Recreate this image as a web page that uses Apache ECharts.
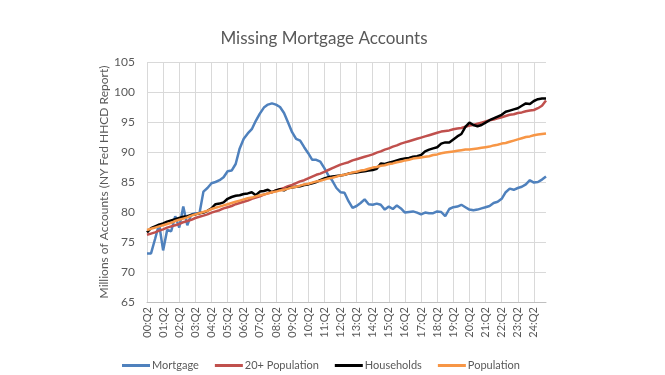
<!DOCTYPE html>
<html>
<head>
<meta charset="utf-8">
<script src="https://cdn.jsdelivr.net/npm/echarts@6/dist/echarts.min.js"></script>
<style>html,body{margin:0;padding:0;background:#fff}#c{width:665px;height:375px}</style>
</head>
<body>
<div id="c"></div>
<script>
// Quarterly categories 00:Q2 .. 25:Q1
const categories = [];
for (let y = 0; y <= 25; y++) {
  for (let q = 1; q <= 4; q++) {
    if ((y === 0 && q < 2) || (y === 25 && q > 1)) continue;
    categories.push(String(y).padStart(2, '0') + ':Q' + q);
  }
}
const seriesNames = ['Mortgage', '20+ Population', 'Households', 'Population'];

const mortgage = [73.1,73.1,75.5,78.0,73.6,77.0,76.8,79.3,77.4,80.9,
  77.8,79.6,79.8,79.7,83.4,84.0,84.8,85.0,85.3,85.8,
  86.8,86.9,88.0,90.6,92.2,93.1,93.8,95.2,96.4,97.4,
  97.9,98.1,97.9,97.5,96.5,94.9,93.3,92.2,91.9,90.8,
  89.8,88.7,88.7,88.4,87.3,86.1,85.2,84.0,83.3,83.2,
  81.8,80.7,81.0,81.5,82.1,81.3,81.2,81.4,81.2,80.4,
  80.9,80.5,81.1,80.6,79.9,80.0,80.1,79.9,79.6,79.9,
  79.8,79.8,80.1,80.0,79.3,80.5,80.8,80.9,81.2,80.8,
  80.4,80.3,80.4,80.6,80.8,81.0,81.5,81.7,82.2,83.3,
  83.9,83.7,84.0,84.2,84.6,85.3,84.9,85.0,85.4,85.9];

const pop20 = [76.2,76.4,76.6,76.9,77.1,77.4,77.6,77.8,78.0,78.3,
  78.5,78.7,79.0,79.2,79.4,79.6,79.9,80.1,80.3,80.6,
  80.8,81.0,81.3,81.5,81.7,81.9,82.2,82.4,82.6,82.9,
  83.1,83.3,83.6,83.8,84.0,84.3,84.5,84.8,85.1,85.3,
  85.6,85.9,86.2,86.4,86.7,87.0,87.3,87.6,87.9,88.1,
  88.3,88.6,88.8,89.0,89.2,89.4,89.6,89.9,90.1,90.4,
  90.6,90.9,91.1,91.4,91.6,91.8,92.0,92.2,92.4,92.6,
  92.8,93.0,93.2,93.4,93.5,93.6,93.8,93.9,94.0,94.2,
  94.4,94.5,94.7,94.9,95.1,95.3,95.4,95.6,95.8,96.0,
  96.2,96.3,96.5,96.6,96.8,96.9,97.0,97.3,97.7,98.6];

const households = [76.6,77.3,77.6,77.9,78.1,78.4,78.6,78.8,79.0,79.2,
  79.3,79.5,79.6,79.8,79.9,80.2,80.6,81.3,81.4,81.6,
  82.2,82.5,82.7,82.8,83.0,83.1,83.3,82.8,83.4,83.5,
  83.7,83.3,83.6,83.8,83.6,84.0,84.1,84.2,84.3,84.5,
  84.6,84.8,85.0,85.3,85.6,85.8,85.9,86.0,86.1,86.2,
  86.4,86.5,86.6,86.7,86.8,86.9,87.0,87.2,88.1,88.0,
  88.2,88.4,88.6,88.8,88.9,89.0,89.2,89.3,89.5,90.1,
  90.4,90.6,90.8,91.4,91.6,91.6,92.1,92.6,93.0,94.2,
  94.9,94.5,94.3,94.5,94.9,95.3,95.6,95.9,96.2,96.7,
  96.9,97.1,97.3,97.7,98.1,98.0,98.5,98.8,98.9,98.9];

const population = [77.0,77.2,77.4,77.6,77.8,78.0,78.2,78.5,78.7,78.9,
  79.1,79.4,79.6,79.8,80.0,80.2,80.5,80.7,80.9,81.1,
  81.3,81.5,81.7,81.9,82.1,82.3,82.4,82.6,82.8,82.9,
  83.1,83.3,83.4,83.6,83.7,83.9,84.1,84.2,84.4,84.6,
  84.7,84.9,85.1,85.2,85.4,85.6,85.7,85.9,86.1,86.2,
  86.4,86.6,86.7,86.9,87.0,87.2,87.4,87.5,87.7,87.8,
  88.0,88.1,88.3,88.4,88.6,88.7,88.9,89.0,89.1,89.2,
  89.3,89.5,89.6,89.8,89.9,90.0,90.1,90.2,90.3,90.4,
  90.4,90.5,90.6,90.7,90.8,90.9,91.1,91.2,91.4,91.5,
  91.7,91.9,92.1,92.3,92.5,92.6,92.8,92.9,93.0,93.1];

const colors = ['#4F81BD', '#C0504D', '#000000', '#F79646'];
const dataSets = [mortgage, pop20, households, population];
const FONT = 'Lato, "Open Sans", sans-serif';

const chart = echarts.init(document.getElementById('c'), null, {renderer: 'canvas'});
chart.setOption({
  animation: false,
  backgroundColor: '#ffffff',
  title: {
    text: 'Missing Mortgage Accounts',
    left: 319, top: 25, textAlign: 'center',
    textStyle: {fontFamily: FONT, fontSize: 17, fontWeight: 'normal', color: '#595959'}
  },
  legend: {
    data: seriesNames.map((n, i) => ({name: n, icon: 'rect', itemStyle: {color: colors[i]}})),
    left: 117, top: 355,
    itemWidth: 28, itemHeight: 3, itemGap: 16,
    textStyle: {fontFamily: FONT, fontSize: 11, color: '#595959', padding: [0, 0, 0, -3]}
  },
  grid: {left: 147, right: 119, top: 62, bottom: 73},
  xAxis: {
    type: 'category', data: categories, boundaryGap: false,
    axisLine: {lineStyle: {color: '#BFBFBF'}},
    axisTick: {show: false},
    axisLabel: {interval: 3, rotate: 90, fontFamily: FONT, fontSize: 11, color: '#595959', margin: 5},
    splitLine: {show: true, interval: 3, lineStyle: {color: '#D9D9D9', width: 1}}
  },
  yAxis: {
    type: 'value', min: 65, max: 105, interval: 5,
    name: 'Millions of Accounts (NY Fed HHCD Report)',
    nameLocation: 'middle', nameGap: 37, nameMoveOverlap: false,
    nameTextStyle: {fontFamily: FONT, fontSize: 12, color: '#595959'},
    axisLine: {show: false}, axisTick: {show: false},
    axisLabel: {fontFamily: FONT, fontSize: 12, color: '#595959', margin: 12},
    splitLine: {lineStyle: {color: '#D9D9D9', width: 1}}
  },
  series: seriesNames.map((n, i) => ({
    name: n, type: 'line', data: dataSets[i], showSymbol: false, symbol: 'none',
    lineStyle: {color: colors[i], width: 2.5}, itemStyle: {color: colors[i]}
  }))
});
</script>
</body>
</html>
